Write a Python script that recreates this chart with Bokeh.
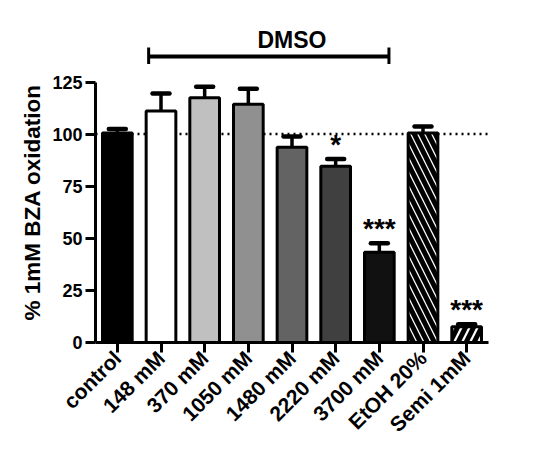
import math
from bokeh.plotting import figure
from bokeh.models import (ColumnDataSource, FactorRange, Range1d, Span, Whisker,
                          TeeHead, FixedTicker, Title)
from bokeh.transform import dodge
from bokeh.core.properties import value
from bokeh.embed import file_html
from bokeh.resources import INLINE

categories = ["control", "148 mM", "370 mM", "1050 mM", "1480 mM",
              "2220 mM", "3700 mM", "EtOH 20%", "Semi 1mM"]
means = [100.5, 111.1, 117.5, 114.3, 93.7, 84.6, 43.3, 100.5, 7.5]
errors = [2.0, 8.4, 5.2, 7.5, 5.2, 3.5, 4.3, 3.2, 1.2]
fills = ["#000000", "#ffffff", "#c0c0c0", "#909090", "#636363",
         "#404040", "#111111", "#ffffff", "#ffffff"]
hatches = [" ", " ", " ", " ", " ", " ", " ", "left_diagonal_line", "right_diagonal_line"]
hatch_scales = [10, 10, 10, 10, 10, 10, 10, 14, 16]
hatch_weights = [1, 1, 1, 1, 1, 1, 1, 5, 5]
stars = ["", "", "", "", "", "*", "***", "", "***"]
y_ticks = [0, 25, 50, 75, 100, 125]
y_label = "% 1mM BZA oxidation"
bracket_label = "DMSO"
bracket_from = "148 mM"
bracket_to = "3700 mM"
bracket_mid = "1480 mM"

FONT = "Liberation Sans"

p = figure(x_range=FactorRange(*categories), y_range=Range1d(0, 155),
           width=528, height=447, output_backend="svg", toolbar_location=None,
           min_border_left=95, min_border_right=40, min_border_top=19,
           min_border_bottom=102)
p.outline_line_color = None
p.grid.grid_line_color = None
p.background_fill_color = "white"
p.border_fill_color = "white"

src = ColumnDataSource(dict(
    cat=categories, val=means, upper=[m + e for m, e in zip(means, errors)],
    fill=fills, hatch=hatches, hscale=hatch_scales, hweight=hatch_weights,
    star=stars, stary=[m + e - 0.5 for m, e in zip(means, errors)],
))

# reference line at 100
p.add_layout(Span(location=100, dimension="width", line_color="black",
                  line_width=2.5, line_dash="2 4", level="underlay"))

p.vbar(x="cat", top="val", bottom=0, width=0.68, source=src,
       fill_color="fill", line_color="black", line_width=3,
       hatch_pattern="hatch", hatch_color="black", hatch_scale="hscale",
       hatch_weight="hweight")

p.add_layout(Whisker(source=src, base="cat", upper="upper", lower="val",
                     dimension="height", line_width=3.5, line_color="black",
                     upper_head=TeeHead(size=17, line_width=4.5, line_color="black",
                                        line_cap="round"),
                     lower_head=None, level="annotation"))

p.text(x="cat", y="stary", text="star", source=src, text_align="center",
       text_baseline="bottom", text_font=value(FONT), text_font_style="bold",
       text_font_size="28px", text_color="black")

# DMSO bracket
bsrc = ColumnDataSource(dict(a=[bracket_from], b=[bracket_to]))
p.segment(x0=dodge("a", -0.283, range=p.x_range), x1=dodge("b", 0.22, range=p.x_range),
          y0=137.3, y1=137.3, source=bsrc, line_width=4, line_color="black")
p.segment(x0=dodge("a", -0.283, range=p.x_range), x1=dodge("a", -0.283, range=p.x_range),
          y0=133.7, y1=141.6, source=bsrc, line_width=3, line_color="black")
p.segment(x0=dodge("b", 0.22, range=p.x_range), x1=dodge("b", 0.22, range=p.x_range),
          y0=133.7, y1=141.6, source=bsrc, line_width=3, line_color="black")
tsrc = ColumnDataSource(dict(m=[bracket_mid], t=[bracket_label]))
p.text(x="m", y=145.3, text="t", source=tsrc, text_align="center",
       text_baseline="alphabetic", text_font=value(FONT), text_font_style="bold",
       text_font_size="23px", text_color="black")

# y axis title as a side title, placed where the original sits
p.add_layout(Title(text=y_label, align="left", offset=22,
                   text_font=FONT, text_font_style="bold", text_font_size="22.5px",
                   text_color="black"), "left")

# axes
for ax in (p.xaxis[0], p.yaxis[0]):
    ax.axis_line_width = 3
    ax.axis_line_color = "black"
    ax.major_tick_line_width = 3
    ax.major_tick_line_color = "black"
    ax.major_tick_out = 10
    ax.major_tick_in = 0
    ax.minor_tick_line_color = None
    ax.major_label_text_font = FONT
    ax.major_label_text_font_style = "bold"
    ax.major_label_text_color = "black"

p.yaxis.ticker = FixedTicker(ticks=y_ticks)
p.yaxis.bounds = (0, 125)
p.yaxis.major_label_text_font_size = "18px"
p.yaxis.major_label_standoff = 3

p.xaxis.major_label_orientation = math.pi / 4
p.xaxis.major_label_text_font_size = "21px"
p.xaxis.major_label_standoff = 2

open("out.html", "w").write(file_html(p, INLINE))
